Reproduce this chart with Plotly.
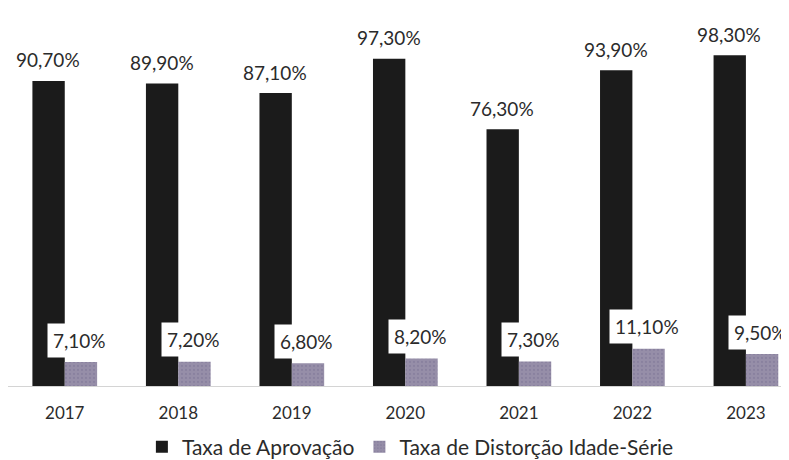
import plotly.graph_objects as go

years = ["2017", "2018", "2019", "2020", "2021", "2022", "2023"]
aprovacao = [90.7, 89.9, 87.1, 97.3, 76.3, 93.9, 98.3]
distorcao = [7.1, 7.2, 6.8, 8.2, 7.3, 11.1, 9.5]
aprov_labels = ["90,70%", "89,90%", "87,10%", "97,30%", "76,30%", "93,90%", "98,30%"]
dist_labels = ["7,10%", "7,20%", "6,80%", "8,20%", "7,30%", "11,10%", "9,50%"]

FONT = "Lato"
BLACK = "#1b1b1b"
GRAY = "#968ea8"
TEXT = "#2b2b2b"

fig = go.Figure()
fig.add_trace(go.Bar(
    x=years, y=aprovacao, name="Taxa de Aprovação",
    marker=dict(color=BLACK, line=dict(width=0)),
))
fig.add_trace(go.Bar(
    x=years, y=distorcao, name="Taxa de Distorção Idade-Série",
    marker=dict(color=GRAY, line=dict(width=0),
                pattern=dict(shape=".", fgcolor="#7c7496", size=4, solidity=0.25)),
))

annotations = []
for i, (v, t) in enumerate(zip(aprovacao, aprov_labels)):
    annotations.append(dict(
        x=i, y=v, text=t, showarrow=False, xref="x", yref="y",
        xanchor="center", yanchor="middle", xshift=-16.5, yshift=21,
        font=dict(family=FONT, size=19, color=TEXT),
    ))
for i, (v, t) in enumerate(zip(distorcao, dist_labels)):
    annotations.append(dict(
        x=i, y=v, text=t, showarrow=False, xref="x", yref="y",
        xanchor="center", yanchor="middle", xshift=15, yshift=22,
        bgcolor="white", borderpad=5,
        font=dict(family=FONT, size=19, color=TEXT),
    ))

fig.update_layout(
    width=789, height=460,
    margin=dict(l=0, r=0, t=8, b=74),
    paper_bgcolor="white", plot_bgcolor="white",
    barmode="group", bargap=0.43, bargroupgap=0,
    showlegend=True,
    legend=dict(
        orientation="h", x=0.51, xanchor="center", y=-0.165, yanchor="middle",
        font=dict(family=FONT, size=21, color=TEXT),
        itemwidth=30, tracegroupgap=0,
    ),
    annotations=annotations,
    font=dict(family=FONT, color=TEXT),
)
fig.update_xaxes(
    type="category", range=[-0.5, 6.45],
    showgrid=False, showline=True, linecolor="#d4d4d4", linewidth=1,
    ticks="", ticklabelstandoff=12,
    tickfont=dict(family=FONT, size=17, color=TEXT),
)
fig.update_yaxes(
    range=[0, 110], visible=False, showgrid=False, zeroline=False,
)

fig.write_html("out.html")
